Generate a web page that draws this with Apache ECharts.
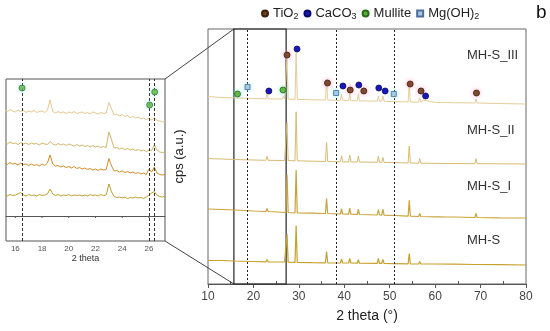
<!DOCTYPE html>
<html><head><meta charset="utf-8">
<script src="https://cdn.jsdelivr.net/npm/echarts@6/dist/echarts.min.js"></script>
<style>html,body{margin:0;padding:0;background:#fff}#c{width:550px;height:331px}</style>
</head><body><div id="c"></div>
<script>
// ---------- data ----------
const seriesNames = ['MH-S_III', 'MH-S_II', 'MH-S_I', 'MH-S'];
const xTicks = [10, 20, 30, 40, 50, 60, 70, 80];
const xMinorTicks = [15, 25, 35, 45, 55, 65, 75];
const insetTicks = [16, 18, 20, 22, 24, 26];
const refLines = [18.6, 38.2, 50.9];
const insetRefLines = [16.5, 26.05, 26.4];
const zoomBox = [15.7, 27.2];

// [2theta, cps (offset, a.u.)]
const mhs3 = [
[10,187.5],[13,186.5],[16,186],[18.35,185.8],[18.6,187.3],[18.85,185.8],[20,185.5],
[22.75,185.2],[23.0,190.2],[23.25,185.2],
[26.35,185],[26.6,187.5],[26.85,185],
[27.15,184.8],[27.4,225.8],[27.65,184.8],
[29.15,184.6],[29.4,231.6],[29.65,184.6],
[33,184.2],
[35.85,184],[36.1,205],[36.35,184],
[39.15,183.6],[39.4,189.6],[39.65,183.6],
[40.95,183.4],[41.2,190.4],[41.45,183.4],
[42.85,183.2],[43.1,190.2],[43.35,183.2],
[47.25,182.8],[47.5,187.8],[47.75,182.8],
[48.25,182.7],[48.5,188.2],[48.75,182.7],
[51,182.4],
[54.05,182],[54.3,200],[54.55,182],
[56.35,181.8],[56.6,186.3],[56.85,181.8],
[57.15,181.8],[57.4,183.8],[57.65,181.8],
[60.35,181.5],[60.6,182.5],[60.85,181.5],
[62.55,181.4],[62.8,182.4],[63.05,181.4],
[63.75,181.3],[64.0,182.8],[64.25,181.3],
[68.75,181],[69.0,185],[69.25,181],
[74,180.5],[80,180]
];
const mhs2 = [
[10,125.5],[13,125],[16,124.5],[20,124],
[22.75,123.7],[23.0,127.7],[23.25,123.7],
[26.35,123.5],[26.6,125],[26.85,123.5],
[27.15,123.4],[27.4,161.4],[27.65,123.4],
[29.15,123.2],[29.4,172.2],[29.65,123.2],
[33,122.8],
[35.85,122.5],[36.1,141.5],[36.35,122.5],
[39.15,122.2],[39.4,128.2],[39.65,122.2],
[40.95,122],[41.2,129],[41.45,122],
[42.85,122],[43.1,128],[43.35,122],
[47.25,121.7],[47.5,127.7],[47.75,121.7],
[48.25,121.6],[48.5,126.6],[48.75,121.6],
[51,121.4],
[54.05,121],[54.3,138],[54.55,121],
[56.35,120.8],[56.6,125.3],[56.85,120.8],
[60.35,120.6],[60.6,122],[60.85,120.6],
[62.55,120.5],[62.8,122],[63.05,120.5],
[63.75,120.5],[64.0,122],[64.25,120.5],
[68.75,120.3],[69.0,125.3],[69.25,120.3],
[74,120.2],[80,120]
];
const mhs1 = [
[10,75],[13,74.5],[16,74],[20,73],
[22.75,72.5],[23.0,75.5],[23.25,72.5],
[27.15,71.5],[27.4,109.5],[27.65,71.5],
[29.15,71],[29.4,114],[29.65,71],
[33,70.8],
[35.85,70.5],[36.1,85.5],[36.35,70.5],
[39.15,70],[39.4,75],[39.65,70],
[40.95,69.8],[41.2,75.8],[41.45,69.8],
[42.85,69.5],[43.1,74.5],[43.35,69.5],
[47.25,69],[47.5,74.5],[47.75,69],
[48.25,68.8],[48.5,74.8],[48.75,68.8],
[51,68.5],
[54.05,67.8],[54.3,83.8],[54.55,67.8],
[56.35,67.5],[56.6,70.5],[56.85,67.5],
[60.35,67.2],[60.6,68.2],[60.85,67.2],
[62.55,67],[62.8,68.5],[63.05,67],
[63.75,67],[64.0,68.5],[64.25,67],
[68.75,66.5],[69.0,70.5],[69.25,66.5],
[74,66.2],[80,66]
];
const mhs0 = [
[10,23.5],[13,23.5],[16,23],[20,22.5],
[22.75,22.2],[23.0,24.5],[23.25,22.2],
[26.35,22],[26.6,23],[26.85,22],
[27.15,21.9],[27.4,50],[27.65,21.8],
[29.15,21.6],[29.4,58.5],[29.65,21.6],
[33,21.3],
[35.85,21.2],[36.1,32.5],[36.35,21.2],
[39.15,21],[39.4,25],[39.65,21],
[40.95,21],[41.2,25.5],[41.45,21],
[42.85,20.8],[43.1,24.3],[43.35,20.8],
[47.25,20.6],[47.5,25.5],[47.75,20.6],
[48.25,20.6],[48.5,24.5],[48.75,20.5],
[51,20.4],
[54.05,20.1],[54.3,30.5],[54.55,20.1],
[56.35,20],[56.6,22.5],[56.85,20],
[60,20],
[63.75,19.8],[64.0,21],[64.25,19.8],
[68.75,19.5],[69.0,21.5],[69.25,19.5],
[74,19.3],[80,19]
];

// phase markers [2theta, position]
const tio2 = [[27.4,229],[36.3,201],[41.3,194],[44.3,193],[54.5,200],[56.9,193],[69.1,191]];
const caco3 = [[23.4,193],[29.6,235],[39.7,198],[43.2,199],[47.6,196],[49.0,193],[57.9,188]];
const mullite = [[16.5,190],[26.5,194]];
const mgoh2 = [[18.7,197],[38.2,191],[50.9,190]];

// inset (15-27 deg)
const insetTheta = [15.2,15.4,15.6,15.8,16.0,16.2,16.4,16.6,16.8,17.0,
17.2,17.4,17.6,17.8,18.0,18.2,18.4,18.6,18.8,19.0,
19.2,19.4,19.6,19.8,20.0,20.2,20.4,20.6,20.8,21.0,
21.2,21.4,21.6,21.8,22.0,22.2,22.4,22.6,22.8,23.0,
23.2,23.4,23.6,23.8,24.0,24.2,24.4,24.6,24.8,25.0,
25.2,25.4,25.6,25.8,26.0,26.2,26.4,26.6,26.8,27.0,27.2];
const insetIII = [106,104.5,106.5,105,104,106,104.5,105.5,103.5,105,
104,105.5,103.5,104.5,105,103.5,106,116,104.5,103,
104.5,103,104,102.5,104,103,104.5,102.5,103.5,104,
102.5,103.5,102,104,103,102,103.5,102.5,103,113.5,
107,101,101.5,100,101.5,99.5,100.5,98.5,99.5,98,
99,97,98,96.5,97.5,96,98.5,95.5,95,94,94.5];
const insetII = [73.5,72,74,72.5,73,71.5,73.5,72,73,71.5,
73,72,72.5,71,73,72,71.5,74.5,72,71,
72.5,71,72,70.5,72,71,70,71.5,70,71,
69.5,70.5,69,70.5,69,70,68.5,69.5,68.5,84,
76,68,68.5,67,68,66.5,67.5,66,67,65.5,
66.5,65,66,64.5,66,65.5,71,66,64,63.5,64];
const insetI = [53,51.5,53.5,52,52.5,51,53,51.5,52,50.5,
52,50.5,51.5,50,52,50.5,53,61,52,50,
50.5,49,50,48.5,49.5,48,49.5,47.5,48.5,47,
48,46.5,47.5,46,47,45.5,47,46,46.5,57.5,
50,45,45.5,44,45,43.5,44.5,43,44,42.5,
43.5,42,43,41.5,47,44,49,43,41.5,41,41.5];
const insetS = [21.5,20,21.5,20.5,21,22,23.5,21,20,21.5,
20.5,21,20,21.5,20.5,21,22,27,22,20.5,
21.5,20,21,20.5,21.5,20,21,20.5,21,20,
21,20,21.5,20.5,21,20,21.5,20.5,21,32,
24,19.5,18.5,19,18,19,17.5,18.5,18,19,
18,18.5,17.5,19,21,23,24.5,21,19.5,19,20];
const insetMullite = [[16.5,128],[26.05,111],[26.43,124]];

// ---------- chart ----------
const FF = '"Liberation Sans", Arial, sans-serif';
const mainColors = ['#e6cd98', '#d8bb72', '#c9a33a', '#c6a12c'];
const mainWidths = [1, 1, 1.2, 1.2];
const insetColors = ['#e3c68c', '#d0b466', '#d48a24', '#bfa12c'];
const mainData = [mhs3, mhs2, mhs1, mhs0];
const insetData = [insetIII, insetII, insetI, insetS];
const zip = (xs, ys) => xs.map((x, i) => [x, ys[i]]);
const legendText = {
  'TiO2': '{n|TiO}{s|2}', 'CaCO3': '{n|CaCO}{s|3}',
  'Mullite': '{n|Mullite}', 'Mg(OH)2': '{n|Mg(OH)}{s|2}'
};
const phaseStyle = {
  'TiO2': {color:'#6e411c', borderColor:'#3a220f', symbol:'circle', size:6, glow:'rgba(255,140,190,0.7)'},
  'CaCO3': {color:'#1818b8', borderColor:'#0a0a6a', symbol:'circle', size:6, glow:'rgba(0,0,0,0)'},
  'Mullite': {color:'#5ab232', borderColor:'#2c6a18', symbol:'circle', size:6, glow:'rgba(120,230,230,0.7)'},
  'Mg(OH)2': {color:'#a8c6e6', borderColor:'#4e6e96', symbol:'rect', size:5, glow:'rgba(120,230,240,0.7)'}
};
const phaseData = {'TiO2': tio2, 'CaCO3': caco3, 'Mullite': mullite, 'Mg(OH)2': mgoh2};

const chart = echarts.init(document.getElementById('c'), null, {renderer:'canvas'});
const series = [];
mainData.forEach((d, i) => {
  const s = {
    name: seriesNames[i], type:'line', xAxisIndex:0, yAxisIndex:0, data:d,
    symbol:'none', silent:true, lineStyle:{width:mainWidths[i], color:mainColors[i]}, z:2
  };
  if (i === 3) {
    s.markLine = {symbol:'none', silent:true, label:{show:false},
      lineStyle:{type:[2,2], color:'#222', width:1},
      data: refLines.map(v => ({xAxis:v}))};
    s.markArea = {silent:true, itemStyle:{color:'rgba(0,0,0,0)', borderColor:'#222', borderWidth:1.2},
      data:[[{xAxis:zoomBox[0], yAxis:0}, {xAxis:zoomBox[1], yAxis:255}]]};
  }
  series.push(s);
});
Object.keys(phaseData).forEach(k => {
  const st = phaseStyle[k];
  series.push({name:k, type:'scatter', xAxisIndex:0, yAxisIndex:0, data:phaseData[k],
    symbol:st.symbol, symbolSize:st.size, z:5,
    itemStyle:{color:st.color, borderColor:st.borderColor, borderWidth:0.8, opacity:1,
      shadowBlur:4, shadowColor:st.glow}});
});
insetData.forEach((d, i) => {
  const s = {name:'inset ' + seriesNames[i], type:'line', xAxisIndex:2, yAxisIndex:1,
    data: zip(insetTheta, d), symbol:'none', silent:true, lineStyle:{width:1, color:insetColors[i]}};
  if (i === 0) {
    s.markLine = {symbol:'none', silent:true, label:{show:false},
      lineStyle:{type:[3,2], color:'#333', width:1},
      data: insetRefLines.map(v => ({xAxis:v}))};
  }
  series.push(s);
});
series.push({name:'Mullite', type:'scatter', xAxisIndex:2, yAxisIndex:1, data:insetMullite,
  symbol:'circle', symbolSize:6, z:5,
  itemStyle:{color:phaseStyle.Mullite.color, borderColor:phaseStyle.Mullite.borderColor, borderWidth:0.8,
    shadowBlur:4, shadowColor:phaseStyle.Mullite.glow}});

chart.setOption({
  animation:false,
  backgroundColor:'#fff',
  textStyle:{fontFamily:FF},
  legend:{
    left:256, top:2, itemWidth:6, itemHeight:6, itemGap:5,
    data:[{name:'TiO2', icon:'circle'},{name:'CaCO3', icon:'circle'},{name:'Mullite', icon:'circle'},{name:'Mg(OH)2', icon:'rect'}],
    formatter: n => legendText[n],
    textStyle:{fontFamily:FF, rich:{
      n:{fontSize:13, color:'#222', fontFamily:FF},
      s:{fontSize:9, color:'#222', fontFamily:FF, padding:[7,0,0,0]}
    }}
  },
  grid:[
    {left:208, right:24, top:29, bottom:47, show:true, borderColor:'#666', borderWidth:1, backgroundColor:'transparent'},
    {left:6, top:79, width:159, height:162, show:true, borderColor:'#555', borderWidth:1, backgroundColor:'transparent'}
  ],
  xAxis:[
    {type:'value', gridIndex:0, min:10, max:80, interval:10,
      axisLine:{lineStyle:{color:'#555'}}, axisTick:{length:4, lineStyle:{color:'#555'}},
      axisLabel:{fontSize:12, color:'#444', margin:7, fontFamily:FF}, splitLine:{show:false},
      name:'2 theta (°)', nameLocation:'middle', nameGap:25,
      nameTextStyle:{fontSize:14, color:'#222', fontFamily:FF}},
    {type:'value', gridIndex:0, min:10, max:80, position:'bottom',
      axisLine:{show:false}, axisLabel:{show:false}, splitLine:{show:false},
      axisTick:{inside:true, length:3, customValues:xMinorTicks, lineStyle:{color:'#555'}}},
    {type:'value', gridIndex:1, min:15.3, max:27.2,
      axisLine:{onZero:true, lineStyle:{color:'#555'}},
      axisTick:{show:false},
      axisLabel:{customValues:insetTicks, fontSize:8, color:'#555', margin:4, fontFamily:FF},
      splitLine:{show:false},
      name:'2 theta', nameLocation:'middle', nameGap:11,
      nameTextStyle:{fontSize:9, color:'#333', fontFamily:FF}}
  ],
  yAxis:[
    {type:'value', gridIndex:0, min:0, max:255,
      axisLine:{show:false}, axisTick:{show:false}, axisLabel:{show:false}, splitLine:{show:false},
      name:'cps (a.u.)', nameLocation:'middle', nameGap:22,
      nameTextStyle:{fontSize:13, color:'#222', fontFamily:FF}},
    {type:'value', gridIndex:1, min:-25, max:137,
      axisLine:{show:false}, axisTick:{show:false}, axisLabel:{show:false}, splitLine:{show:false}}
  ],
  series: series
});

// decorations: series names, panel letter, zoom connectors, inset ticks
const labelY = [229, 154, 98, 44];
const gfx = seriesNames.map((n, i) => {
  const p = chart.convertToPixel({xAxisIndex:0, yAxisIndex:0}, [67.0, labelY[i]]);
  return {type:'text', x:p[0], y:p[1], silent:true,
    style:{text:n, fill:'#333', font:'13px ' + FF, textAlign:'left', textVerticalAlign:'middle'}};
});
insetTicks.forEach(v => {
  const p = chart.convertToPixel({xAxisIndex:2, yAxisIndex:1}, [v, 0]);
  gfx.push({type:'line', silent:true, shape:{x1:p[0], y1:p[1], x2:p[0], y2:p[1] + 2},
    style:{stroke:'#555', lineWidth:1}});
});
const bt = chart.convertToPixel({xAxisIndex:0, yAxisIndex:0}, [zoomBox[0], 255]);
const bb = chart.convertToPixel({xAxisIndex:0, yAxisIndex:0}, [zoomBox[0], 0]);
gfx.push({type:'line', silent:true, shape:{x1:165, y1:79, x2:bt[0], y2:bt[1]}, style:{stroke:'#444', lineWidth:1}});
gfx.push({type:'line', silent:true, shape:{x1:165, y1:241, x2:bb[0], y2:bb[1]}, style:{stroke:'#444', lineWidth:1}});
gfx.push({type:'text', x:536, y:13, silent:true,
  style:{text:'b', fill:'#111', font:'19px ' + FF, textAlign:'left', textVerticalAlign:'middle'}});
chart.setOption({graphic: gfx});
</script>
</body></html>
